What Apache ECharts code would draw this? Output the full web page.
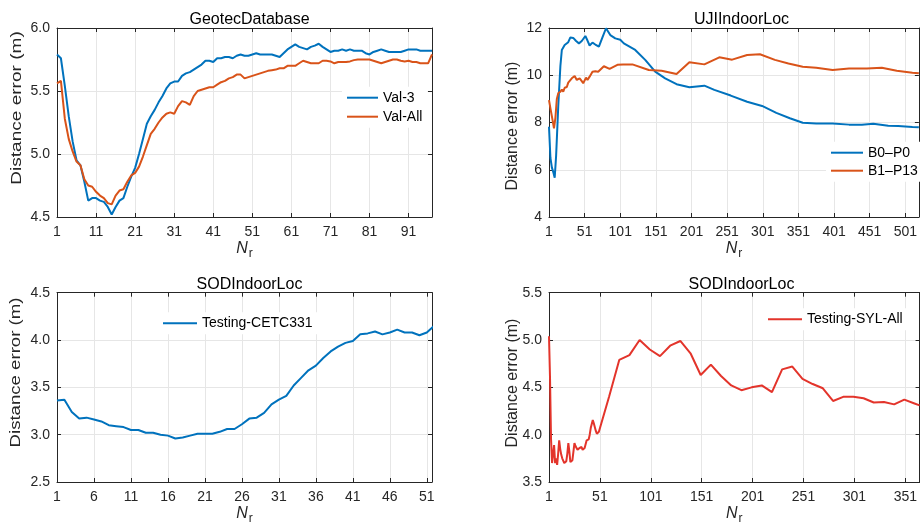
<!DOCTYPE html>
<html>
<head>
<meta charset="utf-8">
<script src="https://cdn.jsdelivr.net/npm/echarts@6/dist/echarts.min.js"></script>
<style>
  html, body { margin: 0; padding: 0; background: #fff; }
  #chart { width: 920px; height: 532px; }
</style>
</head>
<body>
<div id="chart"></div>
<script>
// ---- GeotecDatabase: distance error vs N_r ----
const geotecVal3 = [
  [1,5.79],[2,5.76],[3,5.54],[4,5.30],[5,5.10],[6,4.95],[7,4.91],[8,4.78],[9,4.63],[10,4.65],
  [11,4.65],[12,4.63],[13,4.62],[14,4.58],[15,4.52],[16,4.58],[17,4.63],[18,4.65],[19,4.74],[20,4.82],
  [21,4.89],[22,5.00],[23,5.12],[24,5.24],[25,5.30],[26,5.35],[27,5.41],[28,5.46],[29,5.52],[30,5.56],
  [31,5.575],[32,5.575],[33,5.62],[34,5.64],[35,5.65],[36,5.67],[37,5.69],[38,5.71],[39,5.74],[40,5.74],
  [41,5.73],[42,5.76],[43,5.76],[44,5.77],[45,5.77],[46,5.76],[47,5.78],[48,5.79],[49,5.78],[50,5.78],
  [51,5.79],[52,5.80],[53,5.79],[54,5.79],[55,5.79],[56,5.79],[57,5.78],[58,5.77],[59,5.80],[60,5.83],
  [61,5.85],[62,5.87],[63,5.85],[64,5.84],[65,5.83],[66,5.85],[67,5.86],[68,5.875],[69,5.85],[70,5.83],
  [71,5.81],[72,5.82],[73,5.82],[74,5.83],[75,5.82],[76,5.83],[77,5.82],[78,5.82],[79,5.82],[80,5.80],
  [81,5.79],[82,5.81],[83,5.82],[84,5.83],[85,5.82],[86,5.81],[87,5.81],[88,5.81],[89,5.81],[90,5.82],
  [91,5.83],[92,5.83],[93,5.83],[94,5.82],[95,5.82],[96,5.82],[97,5.82]
];
const geotecValAll = [
  [1,5.56],[2,5.58],[3,5.28],[4,5.12],[5,5.02],[6,4.94],[7,4.91],[8,4.80],[9,4.75],[10,4.74],
  [11,4.70],[12,4.67],[13,4.65],[14,4.61],[15,4.60],[16,4.67],[17,4.71],[18,4.72],[19,4.78],[20,4.83],
  [21,4.85],[22,4.90],[23,4.98],[24,5.07],[25,5.16],[26,5.20],[27,5.25],[28,5.29],[29,5.32],[30,5.33],
  [31,5.32],[32,5.38],[33,5.42],[34,5.41],[35,5.39],[36,5.46],[37,5.50],[38,5.51],[39,5.52],[40,5.53],
  [41,5.53],[42,5.55],[43,5.57],[44,5.58],[45,5.60],[46,5.61],[47,5.63],[48,5.63],[49,5.60],[50,5.61],
  [51,5.62],[52,5.63],[53,5.64],[54,5.65],[55,5.66],[56,5.665],[57,5.67],[58,5.68],[59,5.68],[60,5.70],
  [61,5.70],[62,5.70],[63,5.72],[64,5.74],[65,5.73],[66,5.72],[67,5.72],[68,5.72],[69,5.74],[70,5.74],
  [71,5.735],[72,5.72],[73,5.73],[74,5.73],[75,5.73],[76,5.735],[77,5.745],[78,5.75],[79,5.75],[80,5.75],
  [81,5.75],[82,5.74],[83,5.73],[84,5.72],[85,5.73],[86,5.74],[87,5.75],[88,5.75],[89,5.74],[90,5.735],
  [91,5.74],[92,5.73],[93,5.73],[94,5.72],[95,5.72],[96,5.72],[97,5.79]
];

// ---- UJIIndoorLoc ----
const ujiB0P0 = [
  [1,7.82],[3,6.5],[5,6.1],[7,5.9],[9,5.66],[11,6.6],[14,8.7],[17,10.4],[19,11.07],[23,11.28],
  [28,11.4],[31,11.6],[35,11.58],[39,11.45],[43,11.35],[47,11.45],[52,11.66],[55,11.47],[58,11.26],[62,11.38],
  [66,11.3],[71,11.21],[76,11.6],[81,11.99],[87,11.7],[94,11.56],[101,11.5],[106,11.35],[122,11.07],[136,10.65],
  [150,10.15],[164,9.87],[180,9.62],[198,9.49],[219,9.56],[233,9.38],[256,9.14],[279,8.88],[300,8.70],[320,8.41],
  [339,8.18],[357,7.99],[376,7.96],[399,7.96],[422,7.91],[440,7.90],[456,7.95],[477,7.86],[491,7.85],[511,7.81],
  [520,7.80]
];
const ujiB1P13 = [
  [1,8.95],[3,8.6],[6,8.1],[8,7.75],[10,8.2],[12,9.0],[14,9.24],[17,9.3],[19,9.4],[21,9.3],
  [23,9.47],[26,9.5],[28,9.69],[30,9.66],[33,9.87],[37,9.97],[40,9.8],[44,9.87],[47,9.75],[49,9.66],
  [53,9.9],[55,9.8],[58,9.94],[62,10.15],[66,10.17],[70,10.15],[78,10.38],[86,10.27],[97,10.44],[105,10.46],
  [118,10.46],[141,10.22],[159,10.19],[180,10.05],[198,10.55],[219,10.46],[240,10.76],[258,10.66],[279,10.86],[297,10.89],
  [318,10.65],[337,10.50],[357,10.36],[376,10.32],[399,10.22],[422,10.29],[447,10.29],[468,10.32],[489,10.19],[511,10.11],
  [520,10.08]
];

// ---- SODIndoorLoc, CETC331 (N_r = 1 .. 52) ----
const sodCetcErr = [
  3.36,3.37,3.24,3.17,3.18,3.16,3.14,3.10,3.09,3.08,
  3.05,3.05,3.02,3.02,3.00,2.99,2.96,2.97,2.99,3.01,
  3.01,3.01,3.03,3.06,3.06,3.11,3.17,3.18,3.23,3.32,
  3.37,3.41,3.52,3.60,3.68,3.73,3.81,3.88,3.93,3.97,
  3.99,4.06,4.07,4.09,4.06,4.08,4.11,4.08,4.08,4.05,
  4.08,4.15
];

// ---- SODIndoorLoc, SYL ----
const sodSylAll = [
  [1,5.04],[2,4.6],[3,3.95],[4,3.70],[5,3.72],[6,3.89],[7,3.70],[8,3.75],[9,3.68],[10,3.80],
  [11,3.94],[12,3.85],[13,3.79],[14,3.75],[16,3.70],[18,3.72],[19,3.80],[20,3.91],[21,3.82],[22,3.71],
  [24,3.73],[26,3.91],[27,3.88],[28,3.86],[29,3.84],[31,3.86],[32,3.85],[33,3.87],[34,3.84],[35,3.82],
  [36,3.86],[38,3.94],[39,3.96],[40,3.95],[41,4.00],[42,4.07],[43,4.06],[44,4.155],[45,4.12],[47,4.04],
  [48,4.01],[50,4.03],[60,4.40],[70,4.79],[80,4.84],[90,5.0],[100,4.90],[110,4.83],[120,4.94],[130,4.99],
  [140,4.86],[150,4.63],[160,4.74],[170,4.62],[180,4.52],[190,4.47],[200,4.50],[210,4.52],[220,4.45],[230,4.69],
  [240,4.72],[250,4.59],[260,4.535],[270,4.49],[280,4.356],[290,4.40],[300,4.40],[310,4.385],[320,4.34],[330,4.345],
  [340,4.32],[350,4.37],[360,4.33],[365,4.31]
];

const panelTitles = ['GeotecDatabase', 'UJIIndoorLoc', 'SODIndoorLoc', 'SODIndoorLoc'];
const yLabel = 'Distance error (m)';

const FONT = '"Liberation Sans", Arial, Helvetica, sans-serif';
const AXIS_COLOR = '#262626';
const GRID_COLOR = '#e6e6e6';
const BLUE = '#0072BD', ORANGE = '#D95319', RED = '#E3342B';

// panel geometry: [left, top, width, height]
const boxes = [
  [57, 28, 375, 189],
  [549, 28, 375, 189],
  [57, 292.7, 375, 189.3],
  [549, 292.7, 375, 189.3]
];
// axis ranges per panel: [min, max, interval]
const xRanges = [[1, 97, 10], [1, 520, 50], [1, 51.7, 5], [1, 365, 50]];
const yRanges = [[4.5, 6, 0.5], [4, 12, 2], [2.5, 4.5, 0.5], [3.5, 5.5, 0.5]];
const yDecimals = [1, 0, 1, 1];
// y-label placement: [centerX, centerY, fontSize, stretch along text]
const yLabelPos = [
  [17, 108, 15, 1.27],
  [512.5, 126, 16, 1.0],
  [16, 372.5, 15, 1.24],
  [512.5, 383, 16, 1.0]
];

const grids = [], xAxes = [], yAxes = [], titles = [], labels = [];
boxes.forEach((b, i) => {
  grids.push({ left: b[0], top: b[1], width: b[2], height: b[3], containLabel: false });
  const [xmin, xmax, xint] = xRanges[i];
  const [ymin, ymax, yint] = yRanges[i];
  const tick = { show: true, inside: true, length: 4, lineStyle: { color: AXIS_COLOR, width: 1 } };
  const line = { show: true, onZero: false, lineStyle: { color: AXIS_COLOR, width: 1 } };
  xAxes.push({
    type: 'value', gridIndex: i, min: xmin, max: xmax, interval: xint, position: 'bottom',
    axisLine: line, axisTick: tick,
    splitLine: { show: true, lineStyle: { color: GRID_COLOR, width: 1 } },
    axisLabel: { color: AXIS_COLOR, fontSize: 14, fontFamily: FONT, margin: 8, showMaxLabel: false },
    name: '{n|N}{r|r}', nameLocation: 'middle', nameGap: 22,
    nameTextStyle: {
      color: AXIS_COLOR, fontFamily: FONT,
      rich: {
        n: { fontStyle: 'italic', fontSize: 16, fontFamily: FONT, color: AXIS_COLOR, lineHeight: 18, verticalAlign: 'bottom' },
        r: { fontSize: 12, fontFamily: FONT, color: AXIS_COLOR, lineHeight: 12, verticalAlign: 'bottom', padding: [0, 0, -3, 1] }
      }
    }
  });
  xAxes.push({
    type: 'value', gridIndex: i, min: xmin, max: xmax, interval: xint, position: 'top',
    axisLine: line, axisTick: tick, splitLine: { show: false }, axisLabel: { show: false }
  });
  yAxes.push({
    type: 'value', gridIndex: i, min: ymin, max: ymax, interval: yint, position: 'left',
    axisLine: line, axisTick: tick,
    splitLine: { show: true, lineStyle: { color: GRID_COLOR, width: 1 } },
    axisLabel: {
      color: AXIS_COLOR, fontSize: 14, fontFamily: FONT, margin: 7,
      formatter: v => v.toFixed(yDecimals[i])
    }
  });
  yAxes.push({
    type: 'value', gridIndex: i, min: ymin, max: ymax, interval: yint, position: 'right',
    axisLine: line, axisTick: tick, splitLine: { show: false }, axisLabel: { show: false }
  });
  titles.push({
    text: panelTitles[i], left: b[0] + b[2] / 2, top: i < 2 ? 7 : 271.5, textAlign: 'center',
    textStyle: { color: '#000', fontSize: 16, fontWeight: 'normal', fontFamily: FONT }
  });
  const p = yLabelPos[i];
  labels.push({
    type: 'text', x: p[0], y: p[1], rotation: Math.PI / 2, scaleX: p[3], scaleY: 1,
    style: {
      text: yLabel, fill: AXIS_COLOR, font: p[2] + 'px ' + FONT,
      align: 'center', verticalAlign: 'middle'
    }
  });
});

const lineSeries = (name, data, color, panel) => ({
  type: 'line', name, data, xAxisIndex: panel * 2, yAxisIndex: panel * 2,
  showSymbol: false, symbol: 'none', animation: false, clip: true,
  lineStyle: { color, width: 2 }, itemStyle: { color }
});

const legendBase = {
  orient: 'vertical', icon: 'rect', itemHeight: 2, selectedMode: false,
  backgroundColor: '#fff', padding: [3, 5, 3, 5],
  textStyle: { color: '#000', fontSize: 14, fontFamily: FONT, lineHeight: 16 }
};

const option = {
  animation: false,
  backgroundColor: '#fff',
  title: titles,
  grid: grids,
  xAxis: xAxes,
  yAxis: yAxes,
  graphic: labels,
  legend: [
    Object.assign({}, legendBase, { data: ['Val-3', 'Val-All'], left: 342, top: 86.7, itemWidth: 31, itemGap: 3 }),
    Object.assign({}, legendBase, { data: ['B0–P0', 'B1–P13 Testing'], left: 826, top: 141.7, itemWidth: 32, itemGap: 2 }),
    Object.assign({}, legendBase, { data: ['Testing-CETC331'], left: 158, top: 312.3, itemWidth: 34 }),
    Object.assign({}, legendBase, { data: ['Testing-SYL-All'], left: 763, top: 308.3, itemWidth: 34 })
  ],
  series: [
    lineSeries('Val-3', geotecVal3, BLUE, 0),
    lineSeries('Val-All', geotecValAll, ORANGE, 0),
    lineSeries('B0–P0', ujiB0P0, BLUE, 1),
    lineSeries('B1–P13 Testing', ujiB1P13, ORANGE, 1),
    lineSeries('Testing-CETC331', sodCetcErr.map((v, k) => [k + 1, v]), BLUE, 2),
    lineSeries('Testing-SYL-All', sodSylAll, RED, 3)
  ]
};

const chart = echarts.init(document.getElementById('chart'), null, { renderer: 'canvas' });
chart.setOption(option);
</script>
</body>
</html>
